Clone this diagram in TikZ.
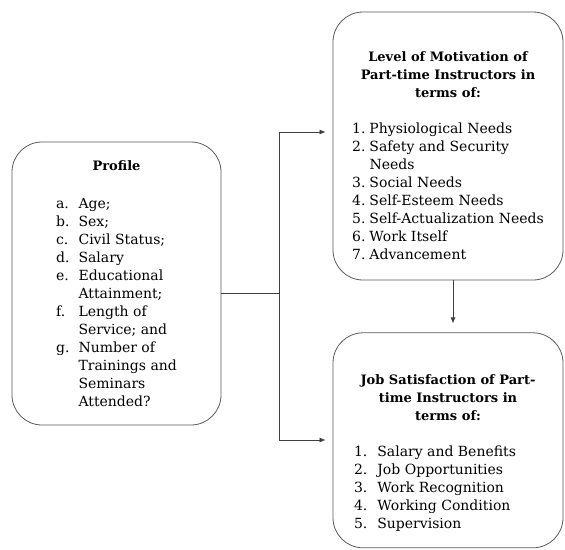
\documentclass[tikz,border=0pt]{standalone}
\usepackage{fontspec}
\setmainfont{DejaVu Serif}
\usepackage{tikz}
\usetikzlibrary{positioning}
\usetikzlibrary{arrows.meta}

\newcommand{\boxtitle}[1]{{\fontsize{13}{18}\selectfont\bfseries #1}}

\begin{document}
\begin{tikzpicture}[
      x=1pt, y=-1pt,
      node distance=52pt and 1cm,
      roundbox/.style={draw=black!65, line width=0.8pt, rounded corners=30pt, inner sep=0pt,
                       align=center, font=\fontsize{14}{18}\selectfont},
      link/.style={draw=black!75, line width=0.7pt},
      arr/.style={link, -{Latex[length=6pt,width=5pt]}, shorten >=7pt}
      ]
      \useasboundingbox (0,0) rectangle (565,549);

      \node[roundbox, minimum width=209pt, minimum height=283pt] (profile) at (116.5,283.5)
      {\rule{0pt}{16pt}\boxtitle{Profile}\\[20pt]
       \begin{tabular}[t]{@{}l@{\hspace{9pt}}l@{}}
       a. & Age;\\ b. & Sex;\\ c. & Civil Status;\\ d. & Salary\\
       e. & Educational\\ & Attainment;\\ f. & Length of\\ & Service; and\\
       g. & Number of\\ & Trainings and\\ & Seminars\\ & Attended?
       \end{tabular}};

      \node[roundbox, minimum width=230pt, minimum height=268pt] (motivation) at (448,146)
      {\rule{0pt}{35pt}\boxtitle{Level of Motivation of}\\ \boxtitle{Part-time Instructors in}\\ \boxtitle{terms of:}\\[18pt]
       \begin{tabular}[t]{@{}l@{\hspace{4pt}}l@{}}
       1. & Physiological Needs\\ 2. & Safety and Security\\ & Needs\\
       3. & Social Needs\\ 4. & Self-Esteem Needs\\ 5. & Self-Actualization Needs\\
       6. & Work Itself\\ 7. & Advancement
       \end{tabular}};

      \node[roundbox, minimum width=230pt, minimum height=215pt, below=of motivation] (satisfaction)
      {\rule{0pt}{38pt}\boxtitle{Job Satisfaction of Part-}\\ \boxtitle{time Instructors in}\\ \boxtitle{terms of:}\\[18pt]
       \begin{tabular}[t]{@{}l@{\hspace{10pt}}l@{}}
       1. & Salary and Benefits\\ 2. & Job Opportunities\\ 3. & Work Recognition\\
       4. & Working Condition\\ 5. & Supervision
       \end{tabular}\hspace*{26pt}};

      \coordinate (split) at (279,293);
      \coordinate (upper) at (279,132);
      \coordinate (lower) at (279,440);

      \draw[link] (split -| profile.east) -- (split);
      \draw[arr] (split) -- (upper) -- (upper -| motivation.west);
      \draw[arr] (split) -- (lower) -- (lower -| satisfaction.west);
      \draw[arr, shorten >=9pt] ([xshift=5pt]motivation.south) -- ([xshift=5pt]satisfaction.north);
    \end{tikzpicture}
\end{document}
